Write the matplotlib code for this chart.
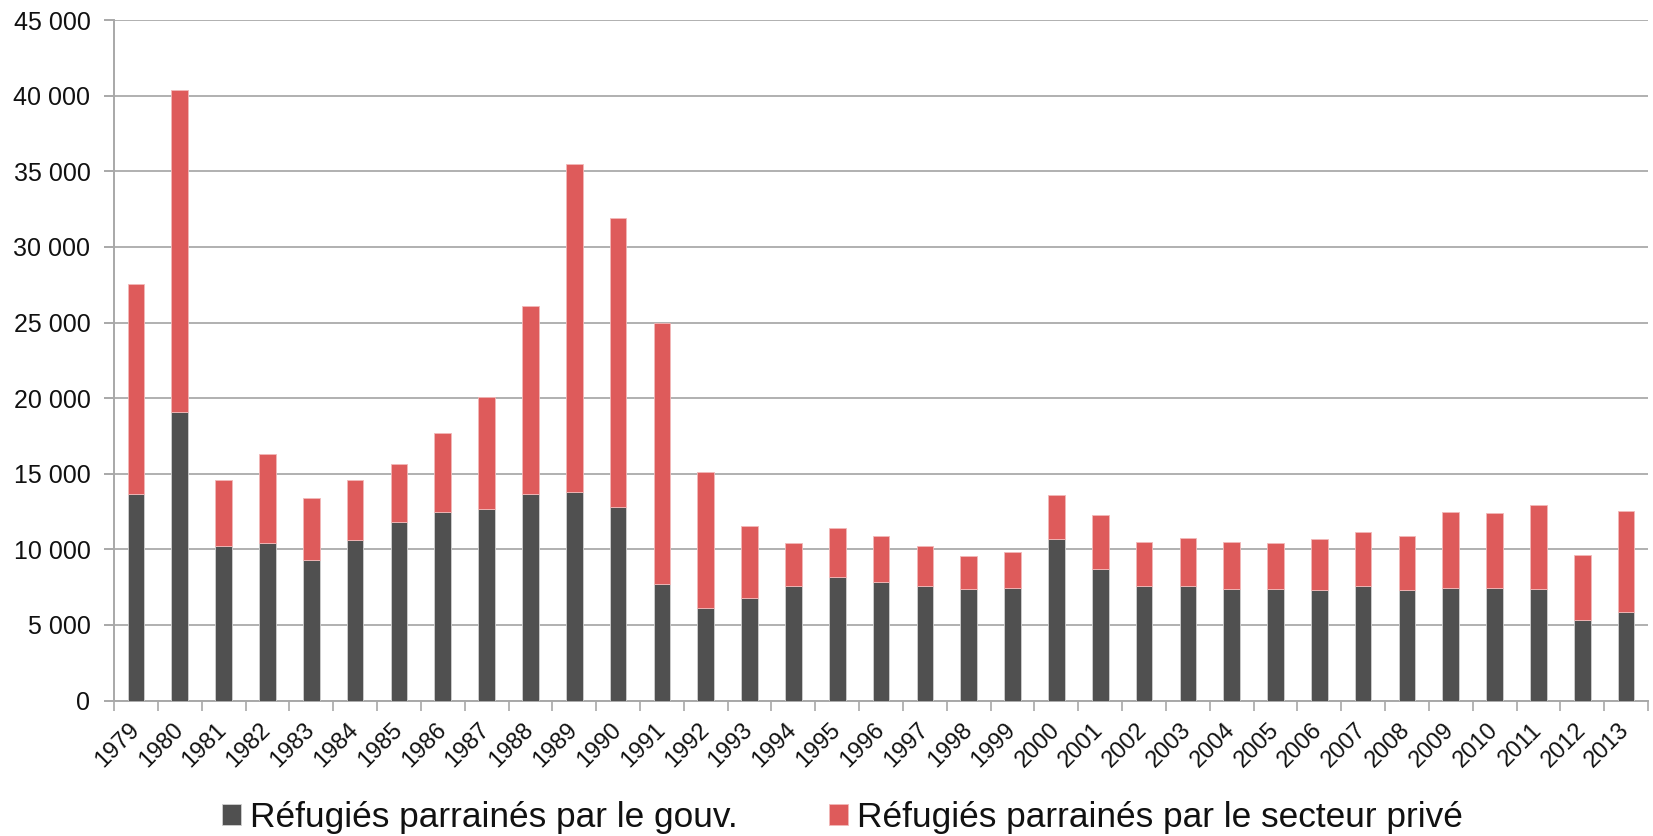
import numpy as np
import matplotlib
matplotlib.use('Agg')
import matplotlib.pyplot as plt
from matplotlib.ticker import FuncFormatter, MultipleLocator, FixedLocator

# Data
years = [str(y) for y in range(1979, 2014)]
total = [27550, 40350, 14600, 16300, 13400, 14600, 15650, 17700, 20050, 26100,
         35450, 31900, 25000, 15100, 11550, 10450, 11400, 10900, 10250, 9550,
         9800, 13600, 12300, 10500, 10750, 10500, 10450, 10700, 11150, 10850,
         12450, 12400, 12950, 9650, 12550]
gov = [13650, 19050, 10200, 10450, 9300, 10600, 11800, 12450, 12700, 13650,
       13800, 12800, 7700, 6100, 6800, 7550, 8200, 7850, 7600, 7400,
       7450, 10700, 8700, 7550, 7550, 7400, 7400, 7300, 7550, 7300,
       7450, 7450, 7400, 5350, 5850]
private = [t - g for t, g in zip(total, gov)]

label_gov = 'Réfugiés parrainés par le gouv.'
label_priv = 'Réfugiés parrainés par le secteur privé'

plt.rcParams['font.family'] = ['Liberation Sans', 'DejaVu Sans']

fig = plt.figure(figsize=(16.53, 8.36), dpi=100)
ax = fig.add_axes([0.069, 0.162, 0.928, 0.814])

x = np.arange(len(years))
ax.bar(x, gov, width=0.38, color='#505050', edgecolor='#d0d0d0', linewidth=0.6,
       label=label_gov, zorder=3)
ax.bar(x, private, width=0.38, bottom=gov, color='#de5b5b', edgecolor='#f2b8b8',
       linewidth=0.6, label=label_priv, zorder=3)

ax.set_xlim(-0.5, len(years) - 0.5)
ax.set_ylim(0, 45000)
ax.yaxis.set_major_locator(MultipleLocator(5000))
ax.yaxis.set_major_formatter(FuncFormatter(lambda v, p: f'{int(v):,}'.replace(',', ' ')))
ax.grid(axis='y', color='#b0b0b0', linewidth=1.4, zorder=0)

for side in ['top', 'right']:
    ax.spines[side].set_visible(False)
for side in ['left', 'bottom']:
    ax.spines[side].set_color('#a8a8a8')
    ax.spines[side].set_linewidth(1.4)

ax.tick_params(axis='y', length=7, width=1.4, color='#a8a8a8', labelsize=18,
               pad=10, labelcolor='#111111')

ax.set_xticks(x)
ax.set_xticklabels(years, rotation=45, ha='right', va='center',
                   rotation_mode='anchor', fontsize=17, color='#111111')
ax.tick_params(axis='x', which='major', length=0, pad=19)
ax.xaxis.set_minor_locator(FixedLocator(np.arange(-0.5, len(years), 1)))
ax.tick_params(axis='x', which='minor', length=7, width=1.2, color='#a8a8a8')

fig.legend(loc='center', bbox_to_anchor=(0.5097, 0.022), ncol=2, frameon=False,
           fontsize=25.4, handlelength=0.52, handleheight=0.52, handletextpad=0.26,
           columnspacing=2.6, borderpad=0, labelcolor='#111111')

fig.savefig('out.png', dpi=100)
